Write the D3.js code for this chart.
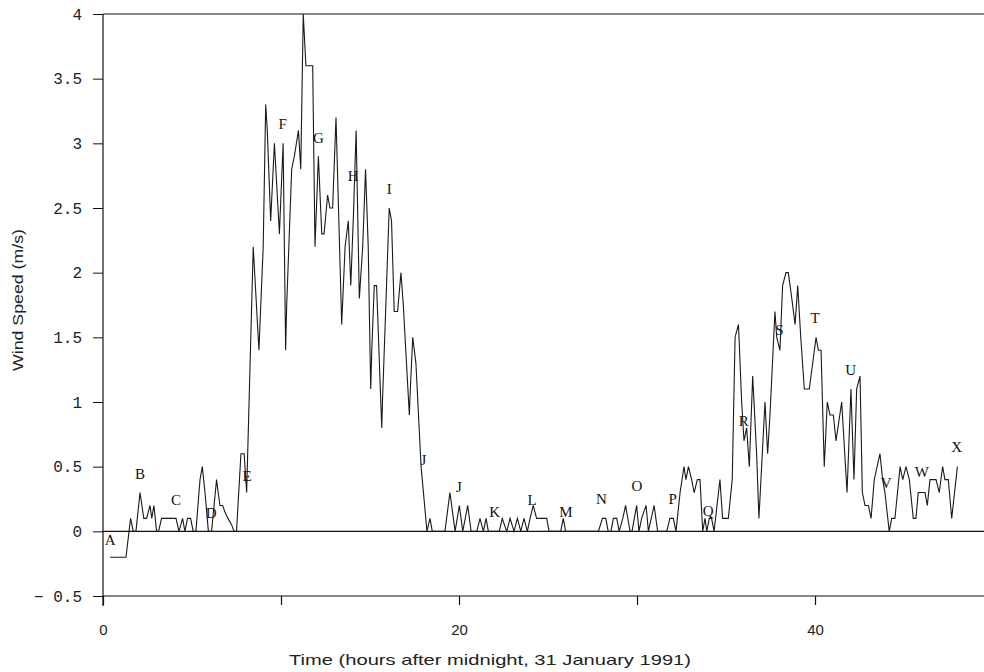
<!DOCTYPE html>
<html>
<head>
<meta charset="utf-8">
<script src="https://cdn.jsdelivr.net/npm/d3@7"></script>
<style>
  html, body { margin: 0; padding: 0; background: #fff; }
  svg { display: block; }
</style>
</head>
<body>
<svg id="chart" width="984" height="672"></svg>
<script>
// ---- data ----
const times = [0.4,1.29,1.55,1.7,1.85,2.08,2.29,2.45,2.64,2.74,2.86,3.01,3.12,3.29,4.1,4.27,4.47,4.6,4.75,4.92,5.07,5.22,5.45,5.58,5.73,5.92,6.1,6.24,6.38,6.47,6.57,6.72,6.85,7.02,7.23,7.36,7.5,7.75,7.93,8.07,8.44,8.76,9.0,9.14,9.23,9.42,9.63,9.91,10.12,10.26,10.32,10.6,10.75,10.98,11.11,11.25,11.4,11.78,11.91,12.1,12.29,12.42,12.62,12.75,12.9,13.09,13.41,13.6,13.78,13.92,14.07,14.22,14.4,14.59,14.75,14.9,15.04,15.1,15.24,15.37,15.66,15.7,16.08,16.21,16.36,16.55,16.74,16.87,17.21,17.25,17.4,17.58,17.87,18.2,18.37,18.5,19.21,19.49,19.78,20.02,20.21,20.49,20.68,21.0,21.18,21.37,21.52,21.65,22.26,22.43,22.68,22.87,23.09,23.28,23.47,23.65,23.84,23.99,24.17,24.36,24.93,25.06,25.71,25.86,25.99,27.83,28.06,28.25,28.38,28.54,28.67,28.86,29.0,29.2,29.36,29.61,29.72,29.85,29.98,30.11,30.26,30.51,30.64,30.8,30.96,31.16,31.67,31.85,32.04,32.19,32.42,32.64,32.75,32.89,33.07,33.21,33.39,33.54,33.69,33.82,33.92,34.06,34.19,34.33,34.66,34.81,35.13,35.35,35.51,35.7,35.88,36.01,36.16,36.31,36.5,36.72,36.85,37.19,37.34,37.47,37.75,37.85,38.03,38.18,38.37,38.5,38.65,38.88,39.03,39.2,39.4,39.68,39.87,40.06,40.19,40.34,40.52,40.69,40.84,41.03,41.18,41.5,41.8,42.02,42.19,42.34,42.53,42.66,42.81,43.0,43.15,43.33,43.65,43.8,43.93,44.17,44.31,44.49,44.78,44.93,45.11,45.3,45.52,45.67,45.8,46.18,46.31,46.46,46.8,46.98,47.17,47.3,47.49,47.68,48.0];
const speeds = [-0.2,-0.2,0.1,0,0,0.3,0.1,0.1,0.2,0.1,0.2,0,0,0.1,0.1,0,0.1,0,0.1,0.1,0,0,0.4,0.5,0.3,0,0,0.2,0.4,0.3,0.2,0.2,0.15,0.1,0.05,0,0,0.6,0.6,0.3,2.2,1.4,2.2,3.3,3.1,2.4,3.0,2.3,3.0,1.4,1.75,2.8,2.9,3.1,2.8,4.0,3.6,3.6,2.2,2.9,2.3,2.3,2.6,2.5,2.5,3.2,1.6,2.2,2.4,1.9,2.45,3.1,1.8,2.2,2.8,2.2,1.1,1.4,1.9,1.9,0.8,1.0,2.5,2.4,1.7,1.7,2.0,1.75,0.9,1.05,1.5,1.3,0.5,0,0.1,0,0,0.3,0,0.2,0,0.2,0,0,0.1,0,0.1,0,0,0.1,0,0.1,0,0.1,0,0.1,0,0.1,0.2,0.1,0.1,0,0,0.1,0,0,0.1,0.1,0,0,0.1,0.1,0,0.1,0.2,0,0,0.1,0.2,0,0.1,0.2,0,0.1,0.2,0,0,0.1,0.1,0,0.3,0.5,0.4,0.5,0.4,0.3,0.4,0.4,0,0.1,0,0.1,0.1,0,0.4,0.1,0.1,0.4,1.5,1.6,1.0,0.7,0.8,0.5,1.2,0.6,0.1,1.0,0.6,0.9,1.7,1.5,1.4,1.9,2.0,2.0,1.85,1.6,1.9,1.5,1.1,1.1,1.3,1.5,1.4,1.4,0.5,1.0,0.9,0.9,0.7,1.0,0.3,1.1,0.4,1.1,1.2,0.3,0.2,0.2,0.1,0.4,0.6,0.4,0.3,0,0.1,0.1,0.5,0.4,0.5,0.4,0.1,0.1,0.3,0.3,0.2,0.4,0.4,0.3,0.5,0.4,0.4,0.1,0.5];

// marker letters placed every two hours (time, height in m/s)
const markerText  = ["A","B","C","D","E","F","G","H","I","J","J","K","L","M","N","O","P","Q","R","S","T","U","V","W","X"];
const markerTime  = [0.4,2.08,4.1,6.08,8.1,10.1,12.1,14.05,16.08,18.0,20.0,22.0,24.1,26.0,28.0,30.0,32.0,34.0,36.0,38.0,40.0,42.0,44.0,46.0,47.96];
const markerValue = [-0.07,0.44,0.24,0.14,0.43,3.15,3.04,2.75,2.65,0.55,0.34,0.15,0.24,0.15,0.25,0.35,0.25,0.16,0.85,1.56,1.65,1.25,0.37,0.46,0.65];

const yTicks = [-0.5,0,0.5,1,1.5,2,2.5,3,3.5,4];
const yTickLabels = ["\u2212 0.5","0","0.5","1","1.5","2","2.5","3","3.5","4"];
const xTicks = [0,10,20,30,40,50];
const xTickLabels = ["0","","20","","40",""];

const xTitle = "Time (hours after midnight, 31 January 1991)";
const yTitle = "Wind Speed (m/s)";

// ---- layout ----
const svg = d3.select("#chart");
const padL = 103, padT = 14, padB = 596;
const W = 984;
const x = d3.scaleLinear().domain([0, 50]).range([padL, padL + 50 * 17.8]);
const y = d3.scaleLinear().domain([-0.5, 4]).range([padB, padT]);
const n = Math.min(times.length, speeds.length);
const pts = d3.range(n).map(i => [times[i], speeds[i]]);

const ink = "#111";

// frame lines: top border, zero line
svg.append("line").attr("x1", padL).attr("x2", W).attr("y1", y(4)).attr("y2", y(4))
  .attr("stroke", ink).attr("stroke-width", 1.2);
svg.append("line").attr("x1", padL).attr("x2", W).attr("y1", y(0)).attr("y2", y(0))
  .attr("stroke", ink).attr("stroke-width", 1.2);

// x axis
const xAxis = d3.axisBottom(x).tickValues(xTicks)
  .tickFormat((d, i) => xTickLabels[i]).tickSizeInner(9).tickSizeOuter(0).tickPadding(19);
const gx = svg.append("g").attr("transform", `translate(0,${padB})`).call(xAxis);
gx.select(".domain").attr("stroke", ink).attr("stroke-width", 1.2).attr("d", `M${padL},0H${W}`);
gx.selectAll(".tick line").attr("stroke", ink).attr("stroke-width", 1.2);
gx.selectAll(".tick text").attr("fill", "#222")
  .style("font-family", "'Liberation Sans', Arial, sans-serif").style("font-size", "15px");

// y axis
const yAxis = d3.axisLeft(y).tickValues(yTicks)
  .tickFormat((d, i) => yTickLabels[i]).tickSizeInner(10).tickSizeOuter(0).tickPadding(11);
const gy = svg.append("g").attr("transform", `translate(${padL},0)`).call(yAxis);
gy.select(".domain").attr("stroke", ink).attr("stroke-width", 1.2).attr("d", `M0,${padT}V${padB + 10}`);
gy.selectAll(".tick line").attr("stroke", ink).attr("stroke-width", 1);
gy.selectAll(".tick text").attr("fill", "#222")
  .style("font-family", "'Liberation Mono', 'DejaVu Sans Mono', monospace").style("font-size", "16px");

// data line
const line = d3.line().x(d => x(d[0])).y(d => y(d[1]));
svg.append("path").datum(pts).attr("d", line)
  .attr("fill", "none").attr("stroke", "#1a1a1a").attr("stroke-width", 1.1)
  .attr("stroke-linejoin", "miter");

// marker letters
svg.append("g").selectAll("text").data(markerText).join("text")
  .attr("x", (d, i) => x(markerTime[i]))
  .attr("y", (d, i) => y(markerValue[i]))
  .attr("text-anchor", "middle").attr("dominant-baseline", "central")
  .attr("fill", "#111")
  .style("font-family", "'Liberation Serif', 'Times New Roman', serif").style("font-size", "15px")
  .text(d => d);

// titles
svg.append("text").attr("x", 490).attr("y", 665)
  .attr("text-anchor", "middle").attr("fill", "#222")
  .attr("textLength", 402).attr("lengthAdjust", "spacingAndGlyphs")
  .style("font-family", "'Liberation Sans', Arial, sans-serif").style("font-size", "15px")
  .text(xTitle);
svg.append("text").attr("transform", "translate(23,300) rotate(-90)")
  .attr("text-anchor", "middle").attr("fill", "#222")
  .attr("textLength", 142).attr("lengthAdjust", "spacingAndGlyphs")
  .style("font-family", "'Liberation Sans', Arial, sans-serif").style("font-size", "15px")
  .text(yTitle);
</script>
</body>
</html>
